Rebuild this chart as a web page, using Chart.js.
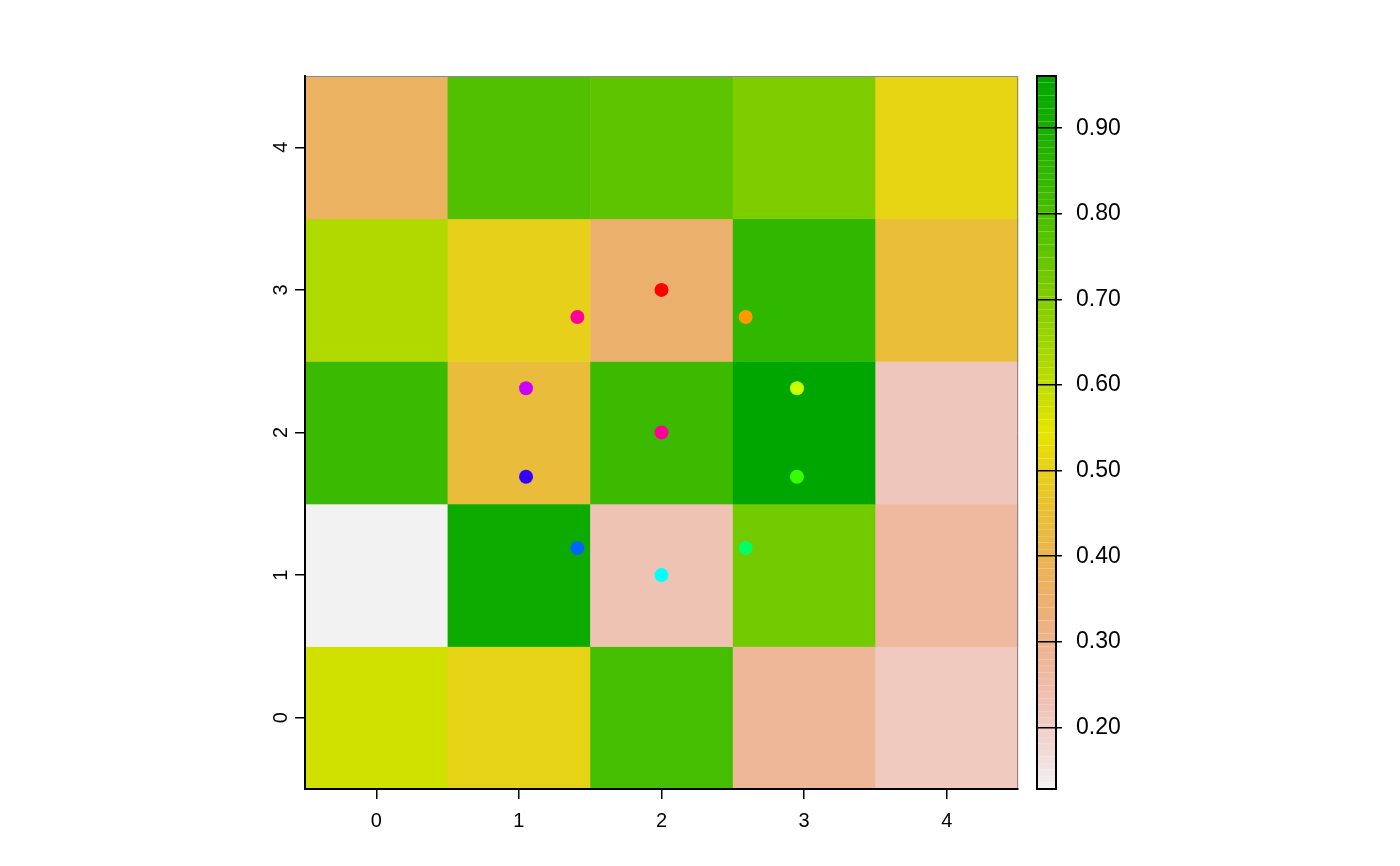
<!DOCTYPE html>
<html>
<head>
<meta charset="utf-8">
<script src="https://cdn.jsdelivr.net/npm/chart.js@4"></script>
<style>
  html, body { margin: 0; padding: 0; background: #fff; }
  #wrap { position: relative; width: 1400px; height: 866px; }
  #wrap canvas { position: absolute; left: 0; top: 0; }
</style>
</head>
<body>
<div id="wrap">
  <canvas id="mainChart" width="1400" height="866"></canvas>
  <canvas id="legendChart" width="1400" height="866"></canvas>
</div>
<script>
// grid cell centres
const xTicks = [0, 1, 2, 3, 4];
const yTicks = [0, 1, 2, 3, 4];

// cell values, one row per y (row 0 = bottom)
const row0 = [0.576, 0.505, 0.809, 0.278, 0.213];
const row1 = [0.128, 0.929, 0.231, 0.726, 0.268];
const row2 = [0.831, 0.437, 0.826, 0.961, 0.220];
const row3 = [0.624, 0.497, 0.353, 0.851, 0.444];
const row4 = [0.371, 0.788, 0.761, 0.706, 0.511];
const cellRows = [row0, row1, row2, row3, row4];

// overlaid points
const pointX = [2, 2.59, 2.95, 2.95, 2.59, 2, 1.41, 1.05, 1.05, 1.41, 2];
const pointY = [3, 2.81, 2.31, 1.69, 1.19, 1, 1.19, 1.69, 2.31, 2.81, 2];
const pointColors = ["#FF0000", "#FF9900", "#CCFF00", "#33FF00", "#00FF66", "#00FFFF",
                     "#0066FF", "#3300FF", "#CC00FF", "#FF0099", "#FF0099"];

// colour bar ticks
const legendTicks = [0.2, 0.3, 0.4, 0.5, 0.6, 0.7, 0.8, 0.9];

const allValues = cellRows.flat();
const zMin = Math.min(...allValues);
const zMax = Math.max(...allValues);

function hsvToRgb(h, s, v) {
    const c = v * s;
    const hp = h / 60;
    const x = c * (1 - Math.abs((hp % 2) - 1));
    let r = 0, g = 0, b = 0;
    if (hp < 1) { r = c; g = x; }
    else if (hp < 2) { r = x; g = c; }
    else { g = c; b = x; }
    const m = v - c;
    return `rgb(${Math.round((r + m) * 255)},${Math.round((g + m) * 255)},${Math.round((b + m) * 255)})`;
}

// reversed terrain colours: low = light grey, mid = yellow, high = green
function terrainColor(value) {
    const t = Math.max(0, Math.min(1, (value - zMin) / (zMax - zMin)));
    if (t >= 0.5) {
        const w = (t - 0.5) * 2;
        return hsvToRgb(60 + 60 * w, 1, 0.9 - 0.25 * w);
    }
    const w = t * 2;
    return hsvToRgb(60 * w, w, 0.95 - 0.05 * w);
}

const FONT = "'Liberation Sans', Arial, sans-serif";

const cellsPlugin = {
    id: "cells",
    beforeDraw(chart) {
        const { ctx, scales: { x, y }, chartArea } = chart;
        ctx.save();
        cellRows.forEach((row, yi) => {
            row.forEach((value, xi) => {
                const left = x.getPixelForValue(xTicks[xi] - 0.5);
                const right = x.getPixelForValue(xTicks[xi] + 0.5);
                const top = y.getPixelForValue(yTicks[yi] + 0.5);
                const bottom = y.getPixelForValue(yTicks[yi] - 0.5);
                ctx.fillStyle = terrainColor(value);
                ctx.fillRect(left, top, right - left + 0.5, bottom - top + 0.5);
            });
        });
        ctx.strokeStyle = "#8a8a8a";
        ctx.lineWidth = 1;
        ctx.beginPath();
        ctx.moveTo(chartArea.left, chartArea.top + 0.5);
        ctx.lineTo(chartArea.right - 0.5, chartArea.top + 0.5);
        ctx.lineTo(chartArea.right - 0.5, chartArea.bottom);
        ctx.stroke();
        ctx.restore();
    },
    afterDraw(chart) {
        const { ctx, scales: { y } } = chart;
        ctx.save();
        ctx.fillStyle = "#000";
        ctx.font = `20px ${FONT}`;
        ctx.textAlign = "center";
        ctx.textBaseline = "middle";
        yTicks.forEach(v => {
            ctx.save();
            ctx.translate(281, y.getPixelForValue(v));
            ctx.rotate(-Math.PI / 2);
            ctx.fillText(String(v), 0, 0);
            ctx.restore();
        });
        ctx.restore();
    }
};

new Chart(document.getElementById("mainChart"), {
    type: "scatter",
    data: {
        datasets: [{
            data: pointX.map((px, i) => ({ x: px, y: pointY[i] })),
            pointBackgroundColor: pointColors,
            pointBorderWidth: 0,
            pointRadius: 7,
            pointHoverRadius: 7
        }]
    },
    options: {
        responsive: false,
        animation: false,
        events: [],
        layout: { padding: { top: 76, right: 382, left: 0, bottom: 0 } },
        plugins: { legend: { display: false }, tooltip: { enabled: false } },
        scales: {
            x: {
                type: "linear",
                min: -0.5,
                max: 4.5,
                afterBuildTicks: s => { s.ticks = xTicks.map(v => ({ value: v })); },
                afterFit: s => { s.height = 77; },
                grid: { drawOnChartArea: false, drawTicks: true, tickLength: 10, color: "#000", lineWidth: 1.5 },
                border: { display: true, color: "#000", width: 2 },
                ticks: { color: "#000", padding: 10, font: { family: FONT, size: 20 } }
            },
            y: {
                type: "linear",
                min: -0.5,
                max: 4.5,
                afterBuildTicks: s => { s.ticks = yTicks.map(v => ({ value: v })); },
                afterFit: s => { s.width = 305; },
                grid: { drawOnChartArea: false, drawTicks: true, tickLength: 10, color: "#000", lineWidth: 1.5 },
                border: { display: true, color: "#000", width: 2 },
                ticks: { display: false }
            }
        }
    },
    plugins: [cellsPlugin]
});

const barPlugin = {
    id: "colorbar",
    beforeDraw(chart) {
        const { ctx, scales: { y }, chartArea } = chart;
        const steps = 110;
        ctx.save();
        for (let i = 0; i < steps; i++) {
            const v0 = zMin + (zMax - zMin) * i / steps;
            const v1 = zMin + (zMax - zMin) * (i + 1) / steps;
            const top = y.getPixelForValue(v1);
            const bottom = y.getPixelForValue(v0);
            ctx.fillStyle = terrainColor((v0 + v1) / 2);
            ctx.fillRect(chartArea.left, top, chartArea.right - chartArea.left, bottom - top);
        }
        ctx.restore();
    },
    afterDraw(chart) {
        const { ctx, chartArea } = chart;
        ctx.save();
        ctx.strokeStyle = "#000";
        ctx.lineWidth = 2;
        ctx.strokeRect(chartArea.left, chartArea.top, chartArea.right - chartArea.left, chartArea.bottom - chartArea.top);
        ctx.restore();
    }
};

new Chart(document.getElementById("legendChart"), {
    type: "scatter",
    data: { datasets: [{ data: [] }] },
    options: {
        responsive: false,
        animation: false,
        events: [],
        layout: { padding: { top: 76, right: 244, left: 1037, bottom: 77 } },
        plugins: { legend: { display: false }, tooltip: { enabled: false } },
        scales: {
            x: { display: false, type: "linear", min: 0, max: 1 },
            y: {
                type: "linear",
                position: "right",
                min: zMin,
                max: zMax,
                afterBuildTicks: s => { s.ticks = legendTicks.map(v => ({ value: v })); },
                afterFit: s => { s.width = 100; },
                grid: { drawOnChartArea: true, drawTicks: true, tickLength: 6, color: "#000", lineWidth: 1.5 },
                border: { display: false },
                ticks: {
                    color: "#000",
                    padding: 14,
                    font: { family: FONT, size: 23 },
                    callback: v => Number(v).toFixed(2)
                }
            }
        }
    },
    plugins: [barPlugin]
});
</script>
</body>
</html>
